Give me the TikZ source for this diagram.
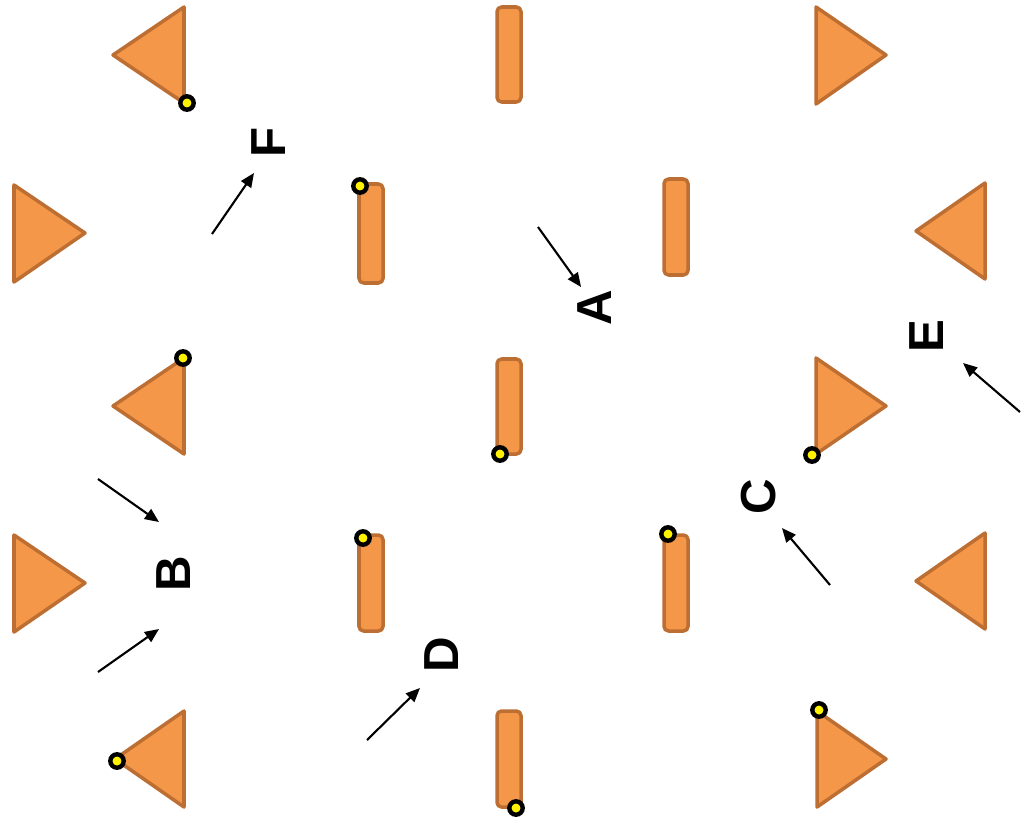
\documentclass[tikz,border=0pt]{standalone}
\usepackage{fontspec}
\setmainfont{Liberation Sans}
\usetikzlibrary{arrows.meta}
\definecolor{padfill}{RGB}{245,151,72}
\definecolor{padedge}{RGB}{189,111,51}
\definecolor{pinfill}{RGB}{255,242,0}

\begin{document}
\begin{tikzpicture}[x=0.01cm,y=-0.01cm,
  pad/.style={fill=padfill,draw=padedge,line width=1pt,line join=round},
  bar/.style={pad,rounded corners=1.3pt},
  pin/.style={fill=pinfill,draw=black,line width=1.25pt},
  tag/.style={font=\fontsize{14}{16}\selectfont\bfseries,rotate=90,inner sep=0pt},
  pointer/.style={-{Triangle[length=4pt,width=3.4pt]},line width=.6pt}]
\useasboundingbox (0,0) rectangle (1022,821);
% triangles pointing left
\draw[pad] (184,7)--(113,55)--(184,103)--cycle;
\draw[pad] (184,358)--(113,406)--(184,454)--cycle;
\draw[pad] (184,711)--(115,759)--(184,807)--cycle;
\draw[pad] (985,183)--(916,231)--(985,279)--cycle;
\draw[pad] (985,533)--(916,581)--(985,629)--cycle;
% triangles pointing right
\draw[pad] (14,185)--(85,233)--(14,282)--cycle;
\draw[pad] (14,535)--(85,583)--(14,632)--cycle;
\draw[pad] (816,7)--(886,55)--(816,104)--cycle;
\draw[pad] (816,358)--(886,406)--(816,454)--cycle;
\draw[pad] (817,711)--(886,759)--(817,807)--cycle;
% bars
\draw[bar] (497,7) rectangle (521,102);
\draw[bar] (359,184) rectangle (383,283);
\draw[bar] (664,179) rectangle (688,275);
\draw[bar] (497,359) rectangle (521,454);
\draw[bar] (359,535) rectangle (383,631);
\draw[bar] (664,535) rectangle (688,631);
\draw[bar] (497,711) rectangle (521,807);
% pins
\filldraw[pin] (187,103) circle (1.9pt);
\filldraw[pin] (183,358) circle (1.9pt);
\filldraw[pin] (117,761) circle (1.9pt);
\filldraw[pin] (812,455) circle (1.9pt);
\filldraw[pin] (819,710) circle (1.9pt);
\filldraw[pin] (360,186) circle (1.9pt);
\filldraw[pin] (500,454) circle (1.9pt);
\filldraw[pin] (363,538) circle (1.9pt);
\filldraw[pin] (668,534) circle (1.9pt);
\filldraw[pin] (516,808) circle (1.9pt);
% labels
\node[tag] (labA) at (595,308) {A};
\node[tag] (labB) at (174,574) {B};
\node[tag] (labC) at (759,497) {C};
\node[tag] (labD) at (442,655) {D};
\node[tag] (labE) at (927,336) {E};
\node[tag] (labF) at (269,142) {F};
% pointers
\coordinate (aT) at (538,227); \coordinate (aH) at (581,287);
\coordinate (b1T) at (98,479); \coordinate (b1H) at (159,522);
\coordinate (b2T) at (98,672); \coordinate (b2H) at (159,629);
\coordinate (cT) at (830,585); \coordinate (cH) at (782,528);
\coordinate (dT) at (367,740); \coordinate (dH) at (420,688);
\coordinate (eT) at (1020,412); \coordinate (eH) at (963,363);
\coordinate (fT) at (212,234); \coordinate (fH) at (254,173);
\draw[pointer] (aT)--(aH);
\draw[pointer] (b1T)--(b1H);
\draw[pointer] (b2T)--(b2H);
\draw[pointer] (cT)--(cH);
\draw[pointer] (dT)--(dH);
\draw[pointer] (eT)--(eH);
\draw[pointer] (fT)--(fH);
\end{tikzpicture}
\end{document}
